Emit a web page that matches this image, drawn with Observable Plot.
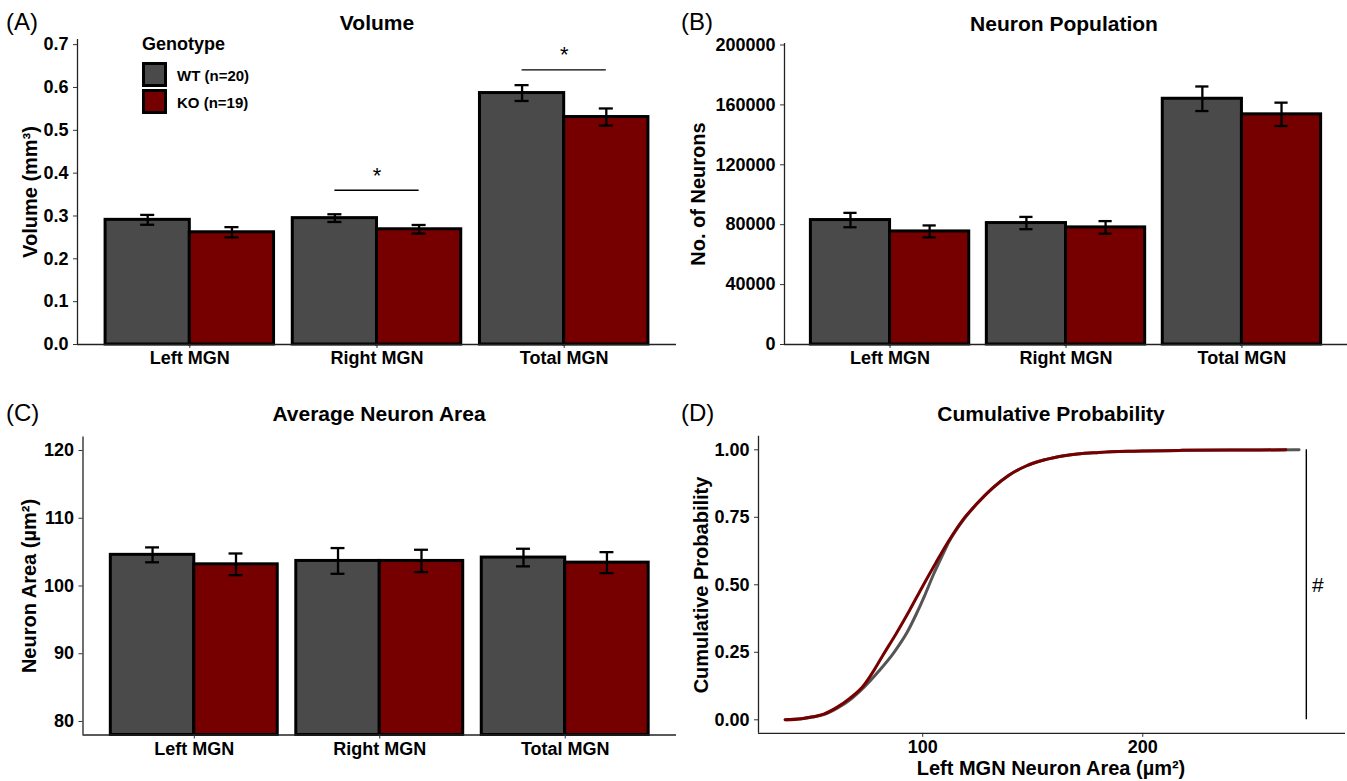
<!DOCTYPE html>
<html><head><meta charset="utf-8">
<script src="https://cdn.jsdelivr.net/npm/d3@7"></script>
<script src="https://cdn.jsdelivr.net/npm/@observablehq/plot@0.6"></script>
<style>
body{margin:0;background:#fff;}
#root{position:relative;width:1347px;height:781px;overflow:hidden;font-family:"Liberation Sans",Arial,sans-serif;color:#000;}
.pan{position:absolute;}
.pan svg{overflow:visible;}
.t{position:absolute;white-space:nowrap;transform:translate(-50%,-50%);font-weight:bold;font-size:21px;}
.lt{position:absolute;white-space:nowrap;transform:translate(0,-50%);font-size:24px;}
.yl{position:absolute;white-space:nowrap;transform:translate(-50%,-50%) rotate(-90deg);font-weight:bold;font-size:20px;}
.lg{position:absolute;white-space:nowrap;transform:translate(0,-50%);font-weight:bold;}
.key{position:absolute;box-sizing:border-box;border:3px solid #000;}
</style></head><body><div id="root"></div><script>
// ---------- data ----------
const categories = ["Left MGN", "Right MGN", "Total MGN"];
const genotypes = ["WT (n=20)", "KO (n=19)"];
const genotypeColors = ["#4a4a4a", "#760000"];

const volumeWT = [0.291, 0.295, 0.587];
const volumeWTse = [0.0115, 0.009, 0.0185];
const volumeKO = [0.262, 0.269, 0.531];
const volumeKOse = [0.012, 0.010, 0.020];

const neuronsWT = [83100, 81100, 164100];
const neuronsWTse = [4800, 4100, 8200];
const neuronsKO = [75500, 78200, 153700];
const neuronsKOse = [4000, 4200, 7800];

const areaWT = [104.6, 103.7, 104.2];
const areaWTse = [1.1, 1.9, 1.3];
const areaKO = [103.2, 103.7, 103.45];
const areaKOse = [1.6, 1.65, 1.55];

const volumeTicks = [0, 0.1, 0.2, 0.3, 0.4, 0.5, 0.6, 0.7];
const neuronTicks = [0, 40000, 80000, 120000, 160000, 200000];
const areaTicks = [80, 90, 100, 110, 120];
const cdfYTicks = [0, 0.25, 0.5, 0.75, 1];
const cdfXTicks = [100, 200];

const sigCategories = ["Right MGN", "Total MGN"];
const sigHeights = [0.36, 0.641];
const sigStarHeights = [0.394, 0.675];
const sigLabels = ["*", "*"];

const cdfWTx = [37.5, 45, 50, 55, 61, 67, 73, 80, 87, 93, 97, 101, 105, 109, 112, 118, 124.6, 132, 139, 147, 155, 165, 180, 196, 218, 240, 271];
const cdfWTy = [0, 0.004, 0.010, 0.019, 0.042, 0.074, 0.118, 0.18, 0.25, 0.325, 0.39, 0.462, 0.54, 0.61, 0.66, 0.735, 0.80, 0.86, 0.905, 0.94, 0.962, 0.979, 0.99, 0.995, 0.998, 0.999, 1.0];
const cdfKOx = [37.5, 45, 50, 55, 61, 67, 73, 78, 82, 88, 94, 100, 106, 112, 118, 124.6, 132, 139, 147, 155, 165, 180, 196, 218, 240, 265];
const cdfKOy = [0, 0.004, 0.011, 0.021, 0.046, 0.08, 0.125, 0.185, 0.24, 0.32, 0.405, 0.495, 0.582, 0.665, 0.738, 0.80, 0.86, 0.905, 0.94, 0.962, 0.979, 0.99, 0.995, 0.998, 0.999, 1.0];
const hashRuleX = [274.3];
const hashLabels = ["#"];
const hashLabelX = [279.5];
const hashLabelY = [0.5];

// ---------- helpers ----------
const root = document.getElementById("root");
const dodge = 0.45, cap = 0.0375;
const catDomain = [0.4, 3.6];
const baseStyle = {fontFamily: '"Liberation Sans", Arial, sans-serif', fontSize: "18px", fontWeight: "bold", color: "#000", background: "transparent"};

function place(el, left, top) {
  const d = document.createElement("div");
  d.className = "pan"; d.style.left = left + "px"; d.style.top = top + "px";
  d.appendChild(el); root.appendChild(d);
}
function txt(cls, s, x, y, extra) {
  const d = document.createElement("div");
  d.className = cls; d.textContent = s;
  d.style.left = x + "px"; d.style.top = y + "px";
  if (extra) Object.assign(d.style, extra);
  root.appendChild(d);
  return d;
}
function rowsOf(wt, wtse, ko, kose) {
  return categories.flatMap((c, i) => [
    {cat: c, idx: i + 1, g: genotypes[0], side: -1, v: wt[i], se: wtse[i]},
    {cat: c, idx: i + 1, g: genotypes[1], side: 1, v: ko[i], se: kose[i]}
  ]);
}
function barPanel({rows, yDomain, yTicks, yFormat, width, height, mL, mR, mT, mB, extra = []}) {
  const base = Math.max(0, yDomain[0]);
  const cx = d => d.idx + d.side * dodge / 2;
  return Plot.plot({
    width, height, marginLeft: mL, marginRight: mR, marginTop: mT, marginBottom: mB,
    style: baseStyle,
    x: {type: "linear", domain: catDomain, axis: null},
    y: {domain: yDomain, axis: null},
    color: {domain: genotypes, range: genotypeColors},
    marks: [
      Plot.rectY(rows, {x1: d => d.side < 0 ? d.idx - dodge : d.idx, x2: d => d.side < 0 ? d.idx : d.idx + dodge,
        y1: base, y2: "v", fill: "g", stroke: "#000", strokeWidth: 3}),
      Plot.ruleX(rows, {x: cx, y1: d => d.v - d.se, y2: d => d.v + d.se, stroke: "#000", strokeWidth: 2.3}),
      Plot.ruleY(rows, {y: d => d.v + d.se, x1: d => cx(d) - cap, x2: d => cx(d) + cap, stroke: "#000", strokeWidth: 2.3}),
      Plot.ruleY(rows, {y: d => d.v - d.se, x1: d => cx(d) - cap, x2: d => cx(d) + cap, stroke: "#000", strokeWidth: 2.3}),
      ...extra,
      Plot.ruleX([catDomain[0]], {y1: yDomain[0], y2: yDomain[1], stroke: "#222", strokeWidth: 1.3}),
      Plot.ruleY([yDomain[0]], {x1: catDomain[0], x2: catDomain[1], stroke: "#222", strokeWidth: 1.3}),
      Plot.axisX({ticks: [1, 2, 3], tickFormat: i => categories[i - 1], tickSize: 4, tickPadding: 3, label: null, stroke: "#333"}),
      Plot.axisY({ticks: yTicks, tickFormat: yFormat, tickSize: 4, tickPadding: 5, label: null, stroke: "#333"})
    ]
  });
}

// ---------- Panel A ----------
const sigRows = sigCategories.map((c, i) => ({idx: categories.indexOf(c) + 1, y: sigHeights[i], ys: sigStarHeights[i], lab: sigLabels[i]}));
place(barPanel({
  rows: rowsOf(volumeWT, volumeWTse, volumeKO, volumeKOse),
  yDomain: [0, 0.712], yTicks: volumeTicks, yFormat: d3.format(".1f"),
  width: 677, height: 390, mL: 77, mR: 1, mT: 39, mB: 46,
  extra: [
    Plot.ruleY(sigRows, {y: "y", x1: d => d.idx - dodge / 2, x2: d => d.idx + dodge / 2, stroke: "#000", strokeWidth: 1.4}),
    Plot.text(sigRows, {x: "idx", y: "ys", text: "lab", fontSize: 22, fontWeight: "normal", lineAnchor: "middle"})
  ]
}), 0, 0);

// ---------- Panel B ----------
place(barPanel({
  rows: rowsOf(neuronsWT, neuronsWTse, neuronsKO, neuronsKOse),
  yDomain: [0, 201000], yTicks: neuronTicks, yFormat: d3.format("d"),
  width: 657, height: 390, mL: 94, mR: 0, mT: 43, mB: 46
}), 690, 0);

// ---------- Panel C ----------
place(barPanel({
  rows: rowsOf(areaWT, areaWTse, areaKO, areaKOse),
  yDomain: [78, 122], yTicks: areaTicks, yFormat: d3.format("d"),
  width: 677, height: 391, mL: 82.5, mR: 1, mT: 46.5, mB: 46.5
}), 0, 390);

// ---------- Panel D ----------
const cdfRows = [
  ...cdfWTx.map((x, i) => ({g: genotypes[0], x, y: cdfWTy[i]})),
  ...cdfKOx.map((x, i) => ({g: genotypes[1], x, y: cdfKOy[i]}))
];
const dX = [25.4, 292.1], dY = [-0.05, 1.05];
place(Plot.plot({
  width: 657, height: 391, marginLeft: 68, marginRight: 2, marginTop: 45.8, marginBottom: 48.2,
  style: baseStyle,
  x: {domain: dX, axis: null},
  y: {domain: dY, axis: null},
  color: {domain: genotypes, range: ["#555555", "#760000"]},
  marks: [
    Plot.line(cdfRows, {x: "x", y: "y", z: "g", stroke: "g", strokeWidth: 3, curve: "monotone-x"}),
    Plot.ruleX(hashRuleX, {y1: 0, y2: 1, stroke: "#000", strokeWidth: 1.4}),
    Plot.text(hashLabels, {x: hashLabelX, y: hashLabelY, text: d => d, fontSize: 21, fontWeight: "normal", lineAnchor: "middle"}),
    Plot.ruleX([dX[0]], {y1: dY[0], y2: dY[1], stroke: "#222", strokeWidth: 1.3}),
    Plot.ruleY([dY[0]], {x1: dX[0], x2: dX[1], stroke: "#222", strokeWidth: 1.3}),
    Plot.axisX({ticks: cdfXTicks, tickFormat: d3.format("d"), tickSize: 4, tickPadding: 3, label: null, stroke: "#333"}),
    Plot.axisY({ticks: cdfYTicks, tickFormat: d3.format(".2f"), tickSize: 4, tickPadding: 5, label: null, stroke: "#333"})
  ]
}), 690, 390);

// ---------- texts ----------
txt("lt", "(A)", 6, 22);
txt("lt", "(B)", 681, 22);
txt("lt", "(C)", 6, 413);
txt("lt", "(D)", 681, 413);
txt("t", "Volume", 377, 23);
txt("t", "Neuron Population", 1064, 24);
txt("t", "Average Neuron Area", 379, 414);
txt("t", "Cumulative Probability", 1051, 414);
txt("yl", "Volume (mm³)", 30, 192);
txt("yl", "No. of Neurons", 698, 194);
txt("yl", "Neuron Area (µm²)", 29, 586);
txt("yl", "Cumulative Probability", 701, 585);
txt("t", "Left MGN Neuron Area (µm²)", 1051, 768, {fontSize: "20px"});

// legend
txt("lg", "Genotype", 142, 44, {fontSize: "18px"});
genotypes.forEach((g, i) => {
  const k = document.createElement("div");
  k.className = "key";
  Object.assign(k.style, {left: "142px", top: (62 + i * 27) + "px", width: "25px", height: "25px", background: genotypeColors[i]});
  root.appendChild(k);
  txt("lg", g, 177, 75 + i * 27, {fontSize: "15px"});
});
</script></body></html>
